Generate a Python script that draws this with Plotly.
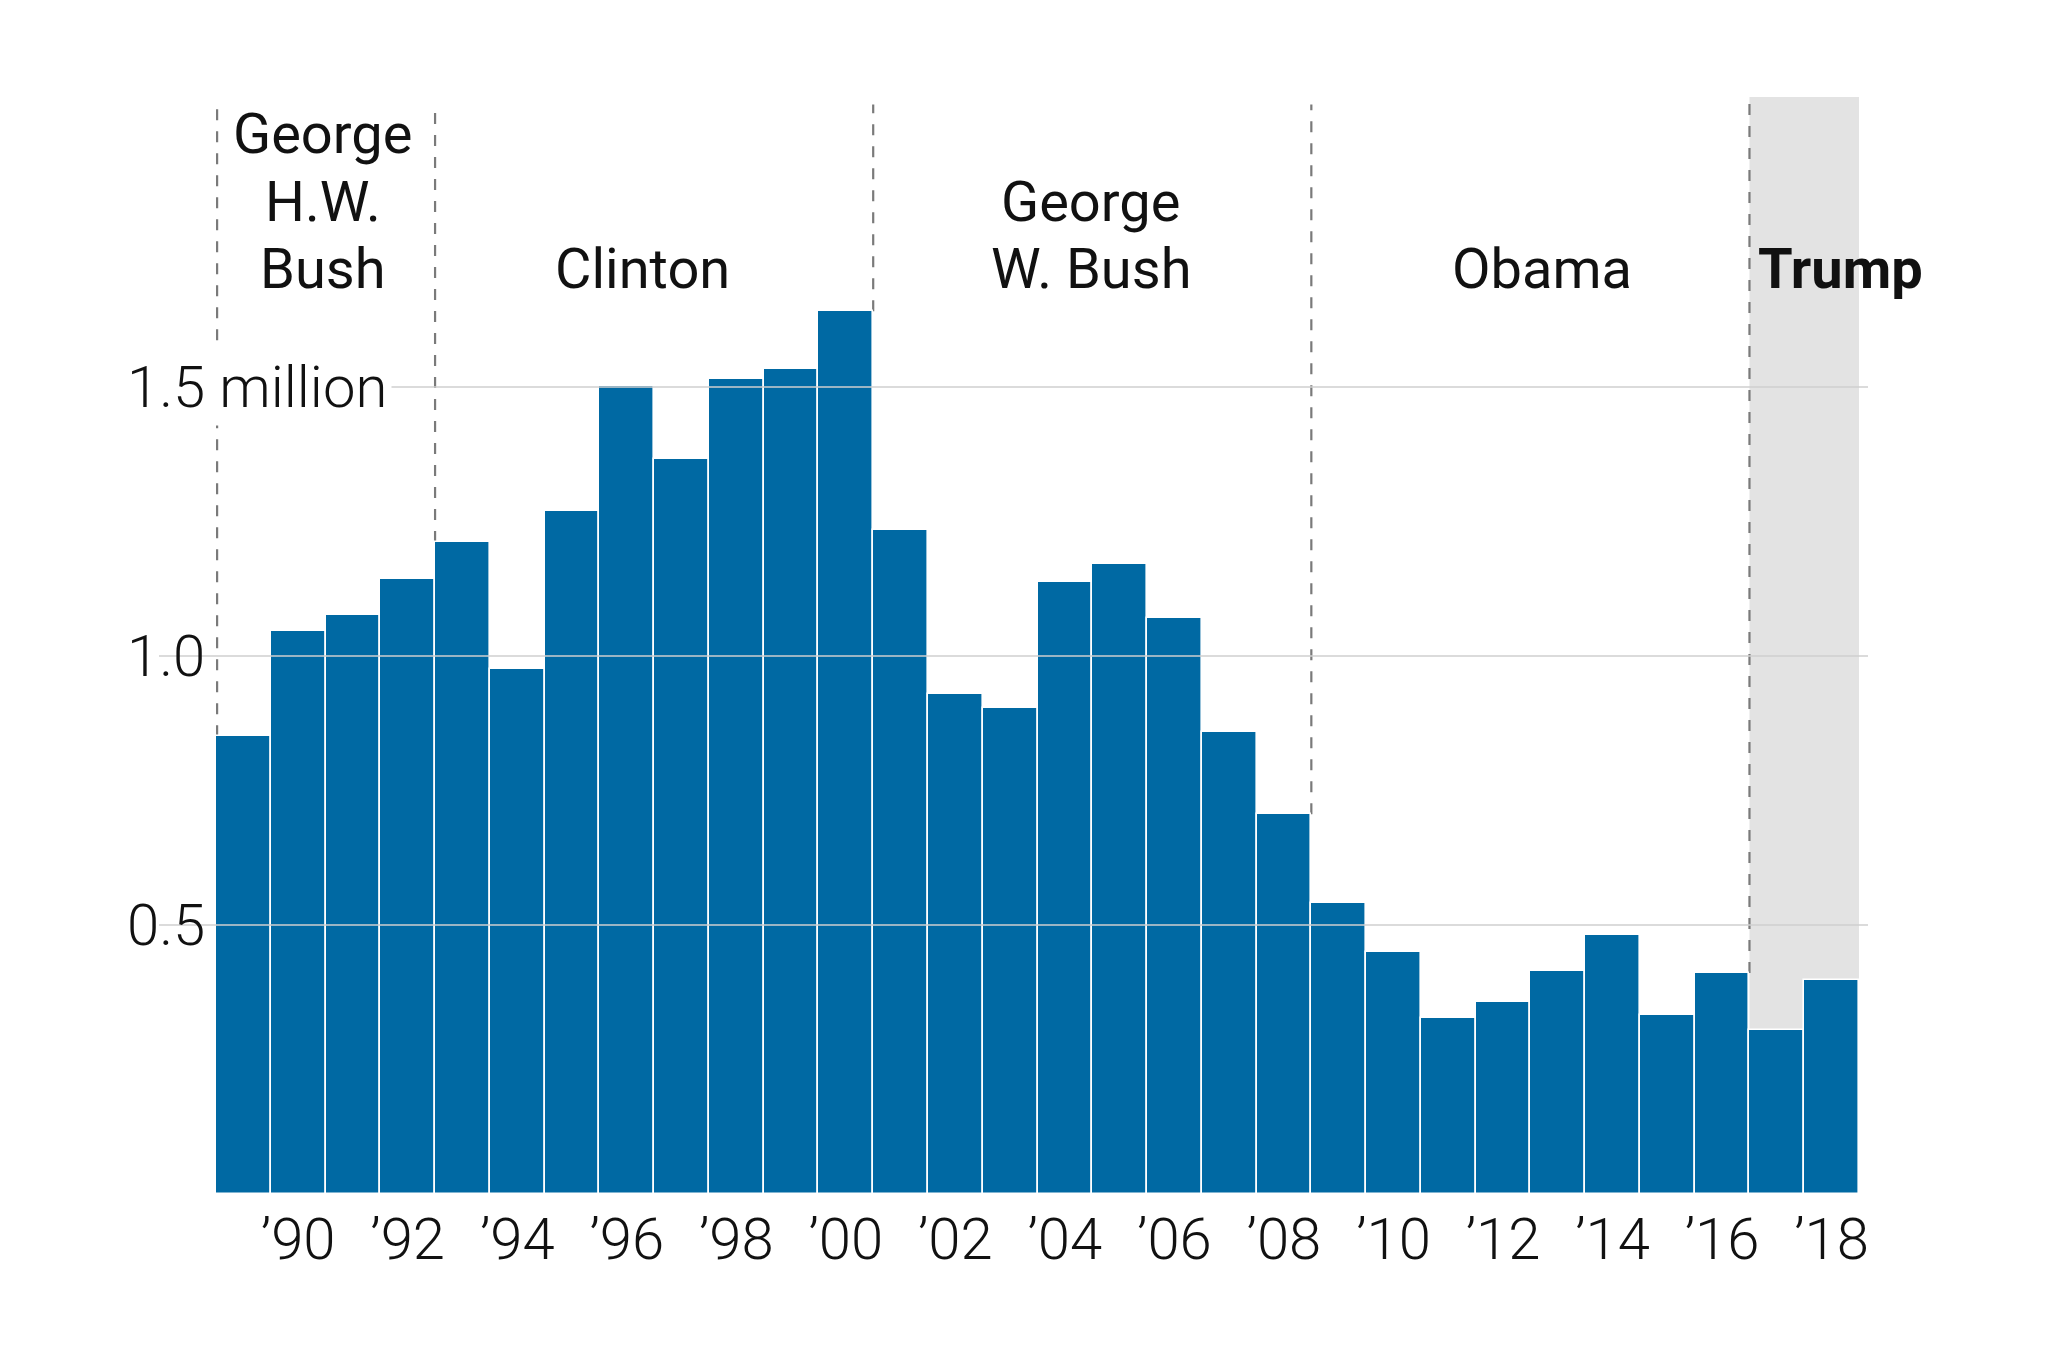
import plotly.graph_objects as go

years = list(range(1989, 2019))
values = [0.851, 1.047, 1.076, 1.144, 1.212, 0.976, 1.269, 1.502, 1.367, 1.515,
          1.534, 1.641, 1.234, 0.929, 0.904, 1.137, 1.171, 1.071, 0.858, 0.706,
          0.541, 0.449, 0.328, 0.357, 0.415, 0.481, 0.333, 0.411, 0.304, 0.398]
tick_years = list(range(1990, 2019, 2))
tick_text = ["\u2019" + str(y)[2:] for y in tick_years]
y_ticks = [0.5, 1.0, 1.5]
y_tick_text = ["0.5", "1.0", "1.5 million"]
term_starts = [1989, 1993, 2001, 2009, 2017]

BLUE = "#0069a3"
YMAX = 2.039
L, R, T, B = 216, 189, 97, 172
W, H = 2048, 1366
PW = W - L - R
PH = H - T - B

fig = go.Figure()
fig.add_trace(go.Bar(x=years, y=values, width=1.0,
                     marker=dict(color=BLUE, line=dict(color="white", width=1.6)),
                     hoverinfo="x+y"))

shapes = []
# Trump shade
shapes.append(dict(type="rect", xref="x", yref="paper", x0=2016.5, x1=2018.5, y0=0, y1=1,
                   fillcolor="#e3e3e3", line=dict(width=0), layer="below"))
# gridlines above bars
def px2paper_x(px):
    return (px - L) / PW
for v in y_ticks:
    shapes.append(dict(type="line", xref="paper", yref="paper",
                       x0=px2paper_x(159), x1=px2paper_x(1868), y0=v / YMAX, y1=v / YMAX,
                       line=dict(color="#cfcfcf", width=1.6), layer="above"))
# presidency dividers
for s in term_starts:
    i = years.index(s)
    lo = max(values[i], values[i - 1] if i > 0 else 0)
    top = YMAX if s == 2017 else 2.025
    xpos = s - 0.5 + (0.02 if i == 0 else 0)
    shapes.append(dict(type="line", xref="x", yref="y", x0=xpos, x1=xpos, y0=lo, y1=top,
                       line=dict(color="#7a7a7a", width=2.2, dash="11px,11px"), layer="below"))

ann = []
tickfont = dict(family="Roboto", size=58, color="#111111", weight=300)
for v, t in zip(y_ticks, y_tick_text):
    ann.append(dict(xref="paper", yref="y", x=px2paper_x(122), y=v, text=t,
                    xanchor="left", yanchor="middle", showarrow=False, font=tickfont,
                    bgcolor="white" if "million" in t else "rgba(0,0,0,0)", borderpad=4))

def ylab(px):
    return (H - B - px) / PH

labfont = dict(family="Roboto", size=56, color="#111111")
labels = [
    ("George", 1990.45, 134, "center", False),
    ("H.W.", 1990.45, 202, "center", False),
    ("Bush", 1990.45, 269, "center", False),
    ("Clinton", 1996.29, 269, "center", False),
    ("George", 2004.47, 202, "center", False),
    ("W. Bush", 2004.47, 269, "center", False),
    ("Obama", 2012.72, 269, "center", False),
    ("Trump", 2016.62, 269, "left", True),
]
for t, x, ypx, xa, bold in labels:
    f = dict(labfont)
    if bold:
        f["weight"] = "bold"
    ann.append(dict(xref="x", yref="paper", x=x, y=ylab(ypx), text=t, xanchor=xa,
                    yanchor="middle", showarrow=False, font=f))

fig.update_layout(
    width=W, height=H,
    margin=dict(l=L, r=R, t=T, b=B, pad=0),
    paper_bgcolor="white", plot_bgcolor="white",
    showlegend=False, bargap=0,
    shapes=shapes, annotations=ann,
    xaxis=dict(range=[1988.5, 2018.5], tickmode="array", tickvals=tick_years, ticktext=tick_text,
               showgrid=False, zeroline=False, showline=False, ticks="",
               tickfont=tickfont, ticklabelstandoff=6, fixedrange=True),
    yaxis=dict(range=[0, YMAX], showgrid=False, zeroline=False, showline=False,
               showticklabels=False, fixedrange=True),
)
fig.write_html("out.html")
